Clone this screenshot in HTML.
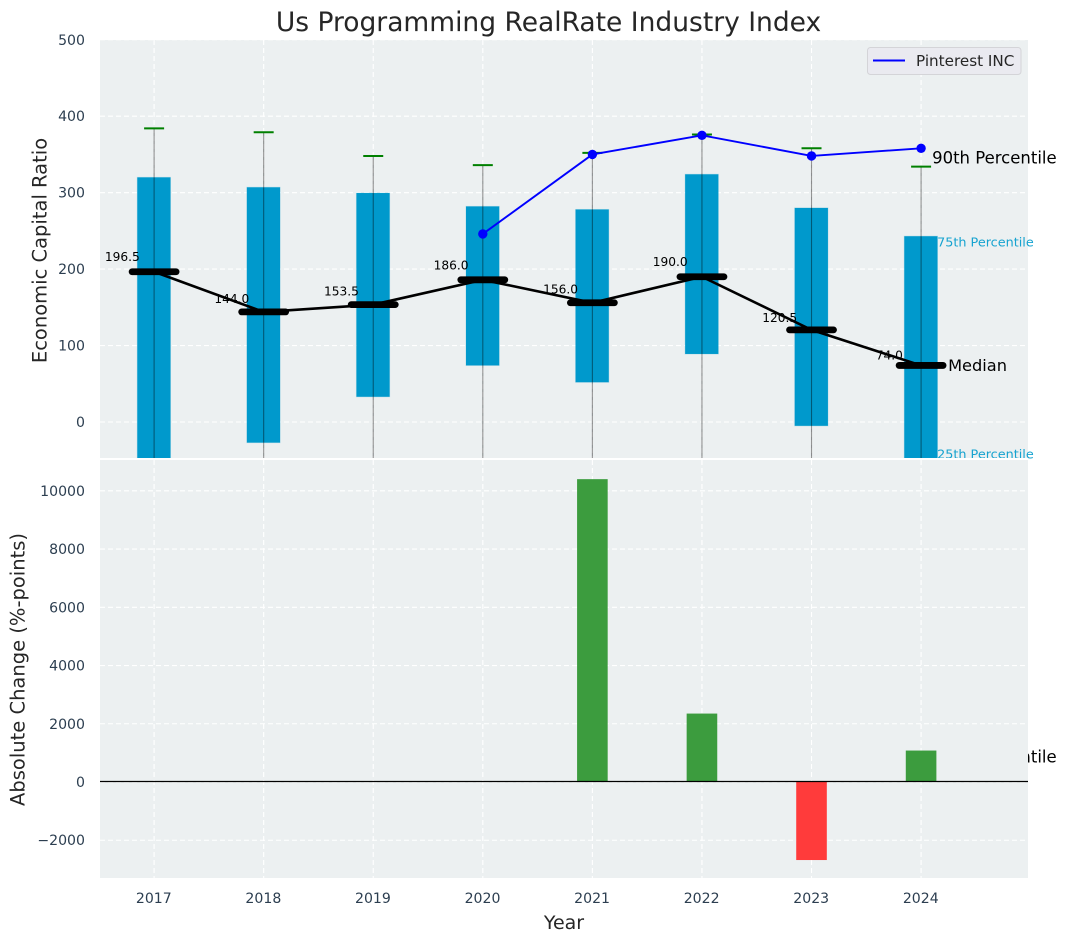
<!DOCTYPE html>
<html>
<head>
<meta charset="utf-8">
<title>Us Programming RealRate Industry Index</title>
<style>
html,body{margin:0;padding:0;background:#fff;}
svg{display:block;font-family:"DejaVu Sans","Liberation Sans",sans-serif;}
</style>
</head>
<body>
<svg id="chart" xmlns="http://www.w3.org/2000/svg" width="1067" height="942" viewBox="0 0 1067 942">
<defs>
<clipPath id="clip-top"><rect x="100" y="40" width="928" height="418"/></clipPath>
<clipPath id="clip-bottom"><rect x="100" y="460" width="928" height="418"/></clipPath>
</defs>
</svg>
<script>
const years = [2017, 2018, 2019, 2020, 2021, 2022, 2023, 2024];
const q1Values = [-60, -27, 33, 74, 52, 89, -5, -60];
const q3Values = [320, 307, 299.5, 282, 278, 324, 280, 243];
const whiskerHigh = [384, 379, 348, 336, 352, 376, 358, 334];
const whiskerLow = [-400, -410, -420, -420, -430, -430, -440, -438];
const medians = [196.5, 144.0, 153.5, 186.0, 156.0, 190.0, 120.5, 74.0];
const companyValues = [null, null, null, 246, 350, 375, 348, 358];
const changeValues = [0, 0, 0, 0, 10400, 2350, -2680, 1080];
const topTicks = [0, 100, 200, 300, 400, 500];
const bottomTicks = [-2000, 0, 2000, 4000, 6000, 8000, 10000];

const NS = 'http://www.w3.org/2000/svg';
const svg = document.getElementById('chart');

function xScale(year) { return 154.1 + (year - 2017) * 109.57; }
function yTop(v) { return 422 - v * 0.7645; }
function yBottom(v) { return 782 - v * 0.02912; }

function make(tag, attrs, parent, text) {
  const el = document.createElementNS(NS, tag);
  for (const k in attrs) el.setAttribute(k, attrs[k]);
  if (text !== undefined) el.textContent = text;
  (parent || svg).appendChild(el);
  return el;
}

let el;

/* Upper axes background and grid */
const topLayer = make('g', {});



el = make('rect', {x: 100, y: 40, width: 928, height: 418, fill: '#ecf0f1'}, topLayer);



topTicks.forEach(function (t) {
  el = make('line', {x1: 100, x2: 1028, y1: yTop(t), y2: yTop(t), stroke: '#fff', 'stroke-width': 1.1, 'stroke-dasharray': '5 3'}, topLayer);
  
  
  el = make('text', {x: 85, y: yTop(t) + 5, 'text-anchor': 'end', 'font-size': 14.1, fill: '#2c3e50'}, topLayer, String(t));
  
  
});
years.forEach(function (y) {
  el = make('line', {x1: xScale(y), x2: xScale(y), y1: 40, y2: 458, stroke: '#fff', 'stroke-width': 1.1, 'stroke-dasharray': '5 3'}, topLayer);
  
  
});

/* Label for 10th percentile sits under the lower panel, as in the source */
el = make('text', {x: xScale(2024) + 11, y: yTop(whiskerLow[7]) + 5.5, 'font-size': 16.5, fill: '#000'}, topLayer, '10th Percentile');



/* Boxes, whiskers and caps */
const boxes = make('g', {'clip-path': 'url(#clip-top)'}, topLayer);


years.forEach(function (y, i) {
  const top = yTop(q3Values[i]);
  const bot = yTop(q1Values[i]);
  el = make('rect', {x: xScale(y) - 16.8, y: top, width: 33.2, height: bot - top, fill: '#0099cc', stroke: '#0099cc', 'stroke-opacity': 0.2, 'stroke-width': 1}, boxes);
  
  
  el = make('line', {x1: xScale(y), x2: xScale(y), y1: yTop(whiskerHigh[i]), y2: yTop(whiskerLow[i]), stroke: '#000', 'stroke-opacity': 0.42, 'stroke-width': 1.1}, boxes);
  
  
  el = make('line', {x1: xScale(y) - 10, x2: xScale(y) + 10, y1: yTop(whiskerHigh[i]), y2: yTop(whiskerHigh[i]), stroke: '#008000', 'stroke-width': 2}, boxes);
  
  
});

/* Median line, dashes and labels */
el = make('polyline', {points: years.map(function (y, i) { return xScale(y) + ',' + yTop(medians[i]); }).join(' '), fill: 'none', stroke: '#000', 'stroke-width': 2.6}, topLayer);


years.forEach(function (y, i) {
  el = make('line', {x1: xScale(y) - 22, x2: xScale(y) + 22, y1: yTop(medians[i]), y2: yTop(medians[i]), stroke: '#000', 'stroke-width': 6.8, 'stroke-linecap': 'round'}, topLayer);
  
  
  el = make('text', {x: xScale(y) - 31.8, y: yTop(medians[i] * 1.05 + 10) + 4.4, 'text-anchor': 'middle', 'font-size': 12.2, fill: '#000'}, topLayer, medians[i].toFixed(1));
  
  
});

/* Company line */
const companyPairs = [];
years.forEach(function (y, i) {
  if (companyValues[i] !== null) companyPairs.push(xScale(y) + ',' + yTop(companyValues[i]));
});
el = make('polyline', {points: companyPairs.join(' '), fill: 'none', stroke: '#0000ff', 'stroke-width': 1.9}, topLayer);


years.forEach(function (y, i) {
  if (companyValues[i] === null) return;
  el = make('circle', {cx: xScale(y), cy: yTop(companyValues[i]), r: 4.7, fill: '#0000ff'}, topLayer);
  
  
});

/* Percentile annotations at the final year */
const lastX = xScale(years[7]);
el = make('text', {x: lastX + 11, y: yTop(whiskerHigh[7]) - 3, 'font-size': 16.5, fill: '#000'}, topLayer, '90th Percentile');


el = make('text', {x: lastX + 16, y: yTop(q3Values[7]) + 10.5, 'font-size': 12.8, fill: '#16a3d0'}, topLayer, '75th Percentile');


el = make('text', {x: lastX + 16, y: yTop(q1Values[7]) - 9.5, 'font-size': 12.8, fill: '#16a3d0'}, topLayer, '25th Percentile');


el = make('text', {x: lastX + 27, y: yTop(medians[7]) + 5.5, 'font-size': 16.2, fill: '#000'}, topLayer, 'Median');



/* Legend */
const legend = make('g', {}, topLayer);


el = make('rect', {x: 867.5, y: 47.5, width: 153.5, height: 27, rx: 3, fill: '#eaeaf0', stroke: '#d4d4d8', 'stroke-width': 1}, legend);


el = make('line', {x1: 873, x2: 905, y1: 60.5, y2: 60.5, stroke: '#0000ff', 'stroke-width': 1.9}, legend);


el = make('text', {x: 916, y: 66, 'font-size': 15.2, fill: '#262626'}, legend, 'Pinterest INC');



/* Lower axes */
const botLayer = make('g', {});



el = make('rect', {x: 100, y: 458, width: 928, height: 2, fill: '#fff'}, botLayer);


el = make('rect', {x: 100, y: 460, width: 928, height: 418, fill: '#ecf0f1'}, botLayer);



bottomTicks.forEach(function (t) {
  el = make('line', {x1: 100, x2: 1028, y1: yBottom(t), y2: yBottom(t), stroke: '#fff', 'stroke-width': 1.1, 'stroke-dasharray': '5 3'}, botLayer);
  
  
  el = make('text', {x: 85, y: yBottom(t) + 5, 'text-anchor': 'end', 'font-size': 14.1, fill: '#2c3e50'}, botLayer, String(t).replace('-', '\u2212'));
  
  
});
years.forEach(function (y) {
  el = make('line', {x1: xScale(y), x2: xScale(y), y1: 460, y2: 878, stroke: '#fff', 'stroke-width': 1.1, 'stroke-dasharray': '5 3'}, botLayer);
  
  
  el = make('text', {x: xScale(y) - 0.3, y: 903, 'text-anchor': 'middle', 'font-size': 14.1, fill: '#2c3e50'}, botLayer, String(y));
  
  
});

const bars = make('g', {'clip-path': 'url(#clip-bottom)'}, botLayer);


years.forEach(function (y, i) {
  const v = changeValues[i];
  if (v === 0) return;
  const y0 = yBottom(Math.max(v, 0));
  const y1 = yBottom(Math.min(v, 0));
  el = make('rect', {x: xScale(y) - 15.3, y: y0, width: 30.6, height: y1 - y0, fill: v > 0 ? '#3c9c3e' : '#ff3b3b'}, bars);
  
  
});

el = make('line', {x1: 100, x2: 1028, y1: yBottom(0) - 0.5, y2: yBottom(0) - 0.5, stroke: '#000', 'stroke-width': 1.3}, botLayer);



/* Titles */
el = make('text', {x: 548.5, y: 31, 'text-anchor': 'middle', 'font-size': 26.5, fill: '#262626'}, svg, 'Us Programming RealRate Industry Index');


el = make('text', {x: 564, y: 929, 'text-anchor': 'middle', 'font-size': 19, fill: '#262626'}, svg, 'Year');


el = make('text', {transform: 'translate(46.5 250.5) rotate(-90)', 'text-anchor': 'middle', 'font-size': 19.5, fill: '#262626'}, svg, 'Economic Capital Ratio');


el = make('text', {transform: 'translate(24.5 669.5) rotate(-90)', 'text-anchor': 'middle', 'font-size': 19.5, fill: '#262626'}, svg, 'Absolute Change (%-points)');


</script>
</body>
</html>
